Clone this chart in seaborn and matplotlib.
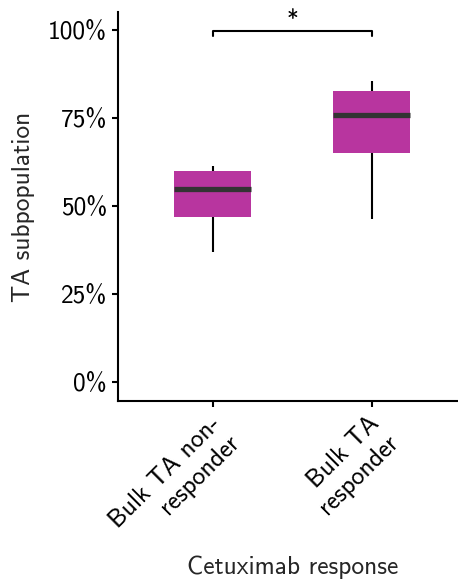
import matplotlib
matplotlib.use("Agg")
import matplotlib.pyplot as plt
import matplotlib.transforms as mtransforms
from matplotlib.ticker import PercentFormatter
import numpy as np
import pandas as pd
import seaborn as sns

# Per-group summary values: lower whisker, Q1, median, Q3, upper whisker
groups = ["Bulk TA non-\nresponder", "Bulk TA\nresponder"]
nonresponder = [0.368, 0.469, 0.549, 0.599, 0.614]
responder = [0.464, 0.651, 0.758, 0.827, 0.856]
yticks = [0.0, 0.25, 0.50, 0.75, 1.0]
significance = "*"

df = pd.DataFrame({
    "group": [groups[0]] * len(nonresponder) + [groups[1]] * len(responder),
    "value": nonresponder + responder,
})

sns.set_theme(style="ticks")
plt.rcParams["font.family"] = ["cmss10", "DejaVu Sans"]
plt.rcParams["axes.unicode_minus"] = False

W, H, DPI = 458, 582, 100
FS = 18.3
fig = plt.figure(figsize=(W / DPI, H / DPI), dpi=DPI)
ax = fig.add_axes([117.5 / W, 181 / H, (467 - 117.5) / W, (570 - 181) / H])

fill = "#b8359f"
sns.boxplot(
    data=df, x="group", y="value", order=groups, ax=ax,
    color=fill, saturation=1, width=0.485, showfliers=False, showcaps=False,
    whis=1.5,
    boxprops=dict(facecolor=fill, edgecolor=fill, linewidth=0),
    whiskerprops=dict(color="black", linewidth=1.5),
    medianprops=dict(color="#333333", linewidth=3.8, solid_capstyle="butt"),
)

ax.set_xlim(-0.6, 1.6)
ax.set_ylim(-0.054, 1.051)
ax.set_yticks(yticks)
ax.yaxis.set_major_formatter(PercentFormatter(1.0, decimals=0))

for side in ("top", "right"):
    ax.spines[side].set_visible(False)
for side in ("left", "bottom"):
    ax.spines[side].set_linewidth(1.5)
    ax.spines[side].set_color("black")
ax.tick_params(axis="both", length=4, width=1.5, color="black",
               labelsize=FS, labelcolor="black")

offset = mtransforms.ScaledTranslation(-4 / DPI, -1 / DPI, fig.dpi_scale_trans)
for lab in ax.get_xticklabels():
    lab.set_rotation(45)
    lab.set_ha("right")
    lab.set_va("top")
    lab.set_rotation_mode("anchor")
    lab.set_multialignment("right")
    lab.set_transform(lab.get_transform() + offset)

ax.set_xlabel("Cetuximab response", fontsize=FS)
ax.xaxis.set_label_coords(0.5, (15 - 181) / 389)
ax.xaxis.label.set_va("center")
ax.set_ylabel("TA subpopulation", fontsize=FS)
ax.yaxis.set_label_coords((24 - 117.5) / 349.5, 0.5)
ax.yaxis.label.set_va("center")

# Significance bracket between the two groups
ax.plot([0, 0, 1, 1], [0.983, 0.997, 0.997, 0.983], color="black",
        linewidth=1.5, clip_on=False)
ax.text(0.5, 1.027, significance, ha="center", va="center", fontsize=17,
        color="black")

fig.savefig("out.png", dpi=DPI)
